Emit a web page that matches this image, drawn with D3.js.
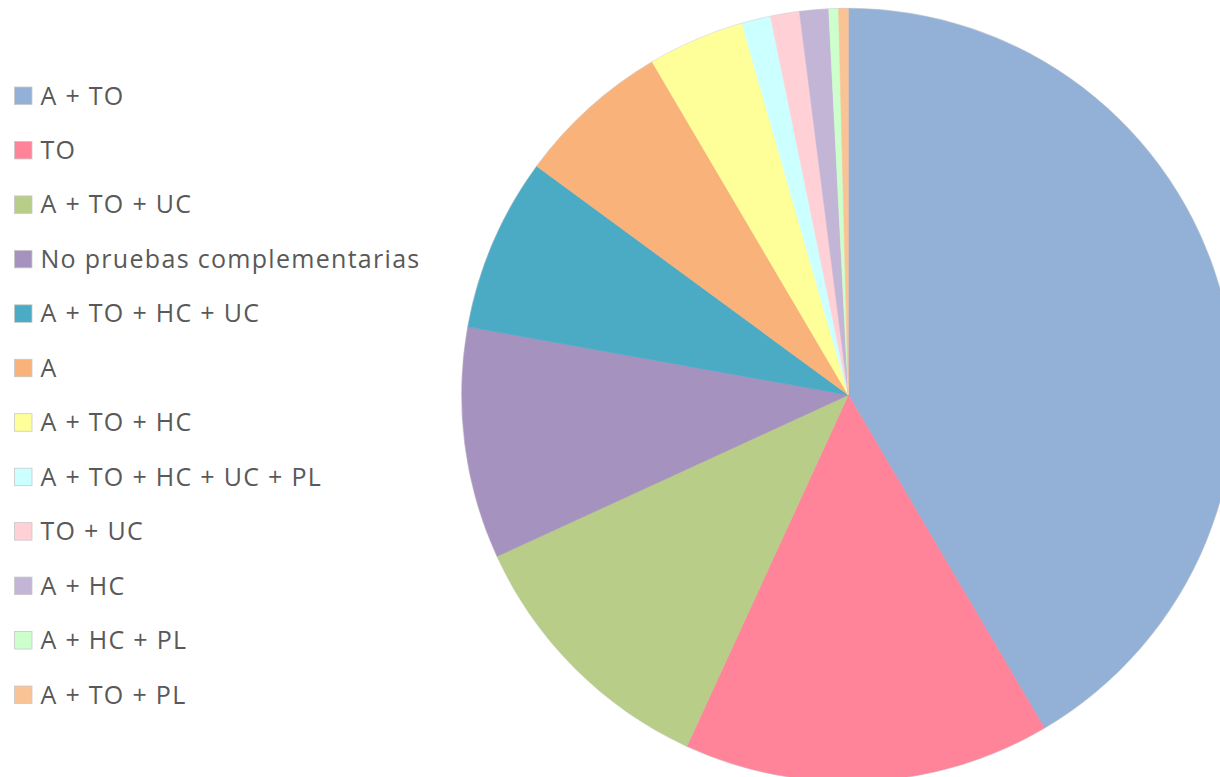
<!DOCTYPE html>
<html>
<head>
<meta charset="utf-8">
<script src="https://cdn.jsdelivr.net/npm/d3@7"></script>
<style>
  html, body { margin: 0; padding: 0; background: #ffffff; }
  svg { display: block; }
</style>
</head>
<body>
<svg id="chart" width="1220" height="777"></svg>
<script>
// Categories of complementary tests and their patient counts
const categories = [
  "A + TO",
  "TO",
  "A + TO + UC",
  "No pruebas complementarias",
  "A + TO + HC + UC",
  "A",
  "A + TO + HC",
  "A + TO + HC + UC + PL",
  "TO + UC",
  "A + HC",
  "A + HC + PL",
  "A + TO + PL"
];
const counts = [103, 38, 28, 24, 18, 16, 10, 3, 3, 3, 1, 1];
const colors = [
  "#93b1d7", "#ff8399", "#b8cd88", "#a692bf", "#4babc5", "#f9b27a",
  "#ffff99", "#ccffff", "#ffd1d6", "#c3b5d6", "#ccffcc", "#fac396"
];

const svg = d3.select("#chart");

const data = categories.map((c, i) => ({ label: c, value: counts[i] }));

// Pie: first slice starts at 12 o'clock and proceeds clockwise, no sorting
const pie = d3.pie().sort(null).value(d => d.value).startAngle(0).endAngle(2 * Math.PI);
const radius = 386.5;
const arc = d3.arc().innerRadius(0).outerRadius(radius);

const color = d3.scaleOrdinal().domain(categories).range(colors);

const pieG = svg.append("g").attr("transform", "translate(848.3,395)");

pieG.selectAll("path.slice")
  .data(pie(data))
  .join("path")
  .attr("class", "slice")
  .attr("d", arc)
  .attr("fill", d => color(d.data.label))
  .attr("stroke", d => color(d.data.label))
  .attr("stroke-width", 0.6);

// faint outline around the disc
pieG.append("circle")
  .attr("r", radius + 0.3)
  .attr("fill", "none")
  .attr("stroke", "#b8b8b8")
  .attr("stroke-opacity", 0.45)
  .attr("stroke-width", 0.8);

// Legend
const legendY = d3.scalePoint().domain(categories).range([95.5, 694.5]);

const legend = svg.append("g").attr("class", "legend");
const items = legend.selectAll("g.item")
  .data(data)
  .join("g")
  .attr("class", "item")
  .attr("transform", d => `translate(0,${legendY(d.label)})`);

items.append("rect")
  .attr("x", 14.5)
  .attr("y", -8.5)
  .attr("width", 17.5)
  .attr("height", 17.5)
  .attr("fill", d => color(d.label))
  .attr("stroke", "#c8c8c8")
  .attr("stroke-width", 0.8);

items.append("text")
  .attr("x", 40.5)
  .attr("y", 9)
  .attr("font-family", "'Open Sans', 'DejaVu Sans', sans-serif")
  .attr("font-size", 25)
  .attr("letter-spacing", 1.3)
  .attr("fill", "#595959")
  .text(d => d.label);
</script>
</body>
</html>
